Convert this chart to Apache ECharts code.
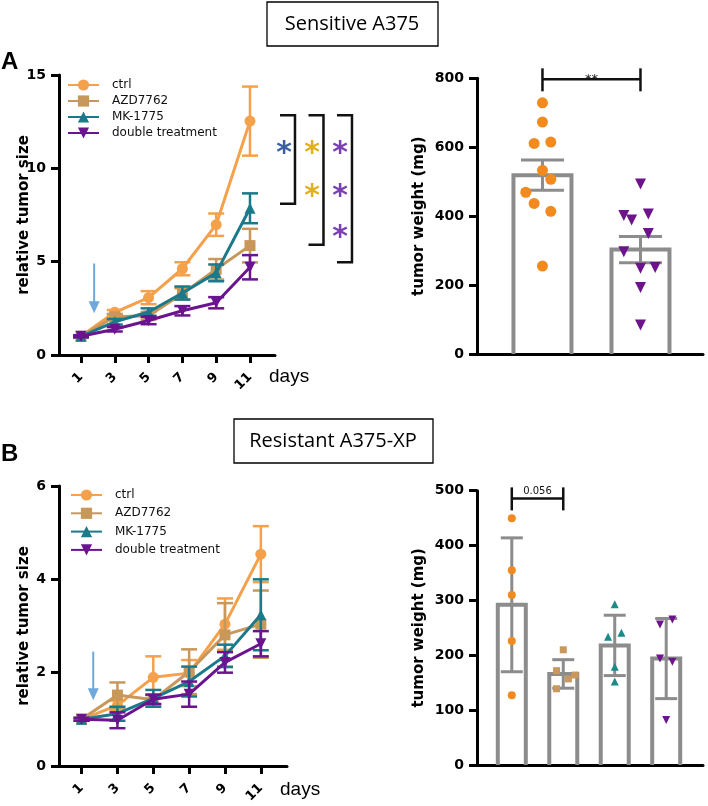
<!DOCTYPE html>
<html><head><meta charset="utf-8">
<script src="https://cdn.jsdelivr.net/npm/echarts@6/dist/echarts.min.js"></script>
<style>html,body{margin:0;padding:0;background:#fff}#c{width:708px;height:806px}</style>
</head><body><div id="c"></div>
<script>
// ---------- data ----------
const days = [1, 3, 5, 7, 9, 11];
const groupNames = ['ctrl', 'AZD7762', 'MK-1775', 'double treatment'];

// Panel A (Sensitive A375) relative tumor size, mean and error
const ctrlSizeA = [1.0, 2.29, 3.07, 4.62, 6.98, 12.53];
const ctrlErrA  = [0.05, 0.12, 0.35, 0.35, 0.6, 1.85];
const azdSizeA  = [1.0, 2.05, 2.1, 3.28, 4.59, 5.86];
const azdErrA   = [0.05, 0.15, 0.2, 0.3, 0.55, 0.9];
const mkSizeA   = [1.0, 1.78, 2.3, 3.32, 4.4, 7.86];
const mkErrA    = [0.05, 0.15, 0.2, 0.35, 0.45, 0.8];
const dblSizeA  = [1.0, 1.38, 1.85, 2.37, 2.8, 4.7];
const dblErrA   = [0.05, 0.12, 0.2, 0.25, 0.3, 0.65];

// Panel B (Resistant A375-XP)
const ctrlSizeB = [1.0, 1.3, 1.9, 1.99, 3.04, 4.54];
const ctrlErrB  = [0.03, 0.1, 0.45, 0.28, 0.55, 0.6];
const azdSizeB  = [1.0, 1.52, 1.42, 2.02, 2.81, 3.04];
const azdErrB   = [0.03, 0.27, 0.1, 0.48, 0.68, 0.72];
const mkSizeB   = [1.0, 1.12, 1.45, 1.81, 2.36, 3.24];
const mkErrB    = [0.03, 0.15, 0.18, 0.32, 0.24, 0.76];
const dblSizeB  = [1.0, 0.98, 1.43, 1.54, 2.22, 2.62];
const dblErrB   = [0.03, 0.17, 0.1, 0.27, 0.22, 0.27];

// Tumor weights A (ctrl vs double)
const weightMeanA = [519, 303];
const weightSemA  = [44, 38];
const weightsCtrlA = [729, 673, 611, 615, 533, 507, 469, 437, 414, 255];
const jitterCtrlA  = [0, 0, -0.085, 0.085, 0, 0.085, -0.17, -0.085, 0.085, 0];
const weightsDblA  = [493, 402, 389, 406, 350, 297, 249, 251, 193, 84];
const jitterDblA   = [0, -0.17, -0.09, 0.08, 0.08, -0.17, 0, 0.15, 0, 0];

// Tumor weights B (4 groups)
const weightMeanB = [292, 166, 218, 194];
const weightSdB   = [122, 26, 55, 73];
const weightsCtrlB = [450, 355, 310, 226, 127];
const jitterCtrlB  = [0, 0, 0, 0, 0];
const weightsAzdB  = [210, 172, 157, 164, 139];
const jitterAzdB   = [0, -0.13, 0.1, 0.23, -0.13];
const weightsMkB   = [293, 234, 241, 179, 152];
const jitterMkB    = [0, -0.13, 0.13, 0, 0];
const weightsDblB  = [256, 265, 194, 188, 82];
const jitterDblB   = [-0.12, 0.12, -0.12, 0.12, 0];

// Annotations
const arrowA = [[1.78, 4.9, 2.23]];
const arrowB = [[1.65, 2.45, 1.41]];
const bracketsA = [[11, 12.85, 8.1], [11, 12.85, 5.9], [11, 12.85, 4.97]];
const starsA = [[0, 11.1, 0], [1, 11.1, 1], [1, 8.8, 1], [2, 11.1, 2], [2, 8.8, 2], [2, 6.6, 2]];
const sigA = [[0, 1, 797, '**']];
const sigB = [[0, 1, 486, '0.056']];

// ---------- styles ----------
const C = { ctrl: '#F5A04A', azd: '#C8975A', mk: '#1B7A8A', dbl: '#6A1490' };
const PT = { ctrl: '#F28A1E', azd: '#C9985E', mk: '#1A8A8A', dbl: '#6D138C' };
const GRAY = '#8C8C8C';
const starColors = ['#3B5FA0', '#E0B020', '#7A3FB0'];
const DOWN = 'path://M0,0L10,0L5,9Z';
const symbols = ['circle', 'rect', 'triangle', DOWN];
const colors = [C.ctrl, C.azd, C.mk, C.dbl];

function errSeries(xi, yi, xs, means, errs, color, cap, lw, z) {
  return {
    type: 'custom', xAxisIndex: xi, yAxisIndex: yi, z: z, silent: true, clip: false,
    data: xs.map((x, j) => [x, means[j], errs[j]]),
    encode: { x: 0, y: 1 },
    renderItem: (p, api) => {
      const x = api.value(0), m = api.value(1), e = api.value(2);
      const t = api.coord([x, m + e]), b = api.coord([x, m - e]);
      const st = { stroke: color, lineWidth: lw };
      return { type: 'group', children: [
        { type: 'line', shape: { x1: t[0], y1: t[1], x2: b[0], y2: b[1] }, style: st },
        { type: 'line', shape: { x1: t[0] - cap / 2, y1: t[1], x2: t[0] + cap / 2, y2: t[1] }, style: st },
        { type: 'line', shape: { x1: b[0] - cap / 2, y1: b[1], x2: b[0] + cap / 2, y2: b[1] }, style: st }
      ]};
    }
  };
}
function lineSeries(xi, yi, name, vals, color, sym, size, z) {
  return {
    type: 'line', name: name, xAxisIndex: xi, yAxisIndex: yi, z: z,
    data: days.map((d, j) => [d, vals[j]]),
    symbol: sym, symbolSize: size, showAllSymbol: true,
    lineStyle: { color: color, width: 3 }, itemStyle: { color: color },
    emphasis: { disabled: true }
  };
}
function barSeries(xi, yi, means, w) {
  return {
    type: 'custom', xAxisIndex: xi, yAxisIndex: yi, z: 2, silent: true,
    data: means.map((m, i) => [i, m]), encode: { x: 0, y: 1 },
    renderItem: (p, api) => {
      const c = api.coord([api.value(0), api.value(1)]), b = api.coord([api.value(0), 0]);
      return { type: 'polyline', shape: { points: [[c[0] - w / 2, b[1]], [c[0] - w / 2, c[1]], [c[0] + w / 2, c[1]], [c[0] + w / 2, b[1]]] },
        style: { fill: 'none', stroke: GRAY, lineWidth: 4 } };
    }
  };
}
function pointSeries(xi, yi, idx, vals, jit, color, sym, size) {
  return {
    type: 'scatter', xAxisIndex: xi, yAxisIndex: yi, z: 6, silent: true,
    data: vals.map((v, j) => [idx + jit[j], v]),
    symbol: sym, symbolSize: size, itemStyle: { color: color, opacity: 1 }
  };
}
function arrowSeries(xi, yi, data) {
  return {
    type: 'custom', xAxisIndex: xi, yAxisIndex: yi, z: 8, silent: true, clip: false,
    data: data, encode: { x: 0, y: [1, 2] },
    renderItem: (p, api) => {
      const a = api.coord([api.value(0), api.value(1)]), b = api.coord([api.value(0), api.value(2)]);
      const col = '#6FA8DC';
      return { type: 'group', children: [
        { type: 'line', shape: { x1: a[0], y1: a[1], x2: b[0], y2: b[1] - 10 }, style: { stroke: col, lineWidth: 2 } },
        { type: 'polygon', shape: { points: [[b[0] - 5.5, b[1] - 12], [b[0] + 5.5, b[1] - 12], [b[0], b[1]]] }, style: { fill: col } }
      ]};
    }
  };
}
function sigSeries(xi, yi, data, fontSize, textDy) {
  return {
    type: 'custom', xAxisIndex: xi, yAxisIndex: yi, z: 8, silent: true, clip: false,
    data: data, encode: { x: [0, 1], y: 2 },
    renderItem: (p, api) => {
      const a = api.coord([api.value(0), api.value(2)]), b = api.coord([api.value(1), api.value(2)]);
      const st = { stroke: '#111', lineWidth: 2.5 };
      return { type: 'group', children: [
        { type: 'line', shape: { x1: a[0], y1: a[1], x2: b[0], y2: b[1] }, style: st },
        { type: 'line', shape: { x1: a[0], y1: a[1] - 11, x2: a[0], y2: a[1] + 12 }, style: st },
        { type: 'line', shape: { x1: b[0], y1: b[1] - 11, x2: b[0], y2: b[1] + 12 }, style: st },
        { type: 'text', style: { text: api.value(3), x: (a[0] + b[0]) / 2, y: a[1] + textDy, align: 'center', verticalAlign: 'middle',
          fontSize: fontSize, fontFamily: 'DejaVu Sans', fill: '#111' } }
      ]};
    }
  };
}

const axisLine = { show: true, onZero: false, lineStyle: { color: '#000', width: 3 } };
const yLabel = { color: '#000', fontWeight: 'bold', fontSize: 14, fontFamily: 'DejaVu Sans', margin: 13 };
const yTick = { show: true, length: 8, lineStyle: { color: '#000', width: 3 } };
const nameStyle = { color: '#000', fontWeight: 'bold', fontSize: 15, fontFamily: 'DejaVu Sans' };

function dayXAxis(gi, min, max) {
  return {
    gridIndex: gi, type: 'value', min: min, max: max,
    axisLine: axisLine, splitLine: { show: false },
    axisTick: { show: true, customValues: days, length: 8, lineStyle: { color: '#000', width: 3 } },
    axisLabel: { customValues: days, rotate: 45, margin: 20, color: '#000', fontWeight: 'bold', fontSize: 13, fontFamily: 'DejaVu Sans' }
  };
}
function plainXAxis(gi, min, max) {
  return { gridIndex: gi, type: 'value', min: min, max: max, axisLine: axisLine,
    axisTick: { show: false }, axisLabel: { show: false }, splitLine: { show: false } };
}
function yAx(gi, max, interval, name, gap) {
  return { gridIndex: gi, type: 'value', min: 0, max: max, interval: interval,
    name: name, nameLocation: 'middle', nameGap: gap, nameTextStyle: nameStyle, nameMoveOverlap: false,
    axisLine: axisLine, axisTick: yTick, axisLabel: yLabel, splitLine: { show: false } };
}
function legendAt(left, top, gap) {
  return {
    data: groupNames, orient: 'vertical', left: left, top: top, padding: 0, itemWidth: 31, itemHeight: 14, itemGap: gap,
    selectedMode: false, textStyle: { fontSize: 12, fontFamily: 'DejaVu Sans', color: '#111', padding: [0, 0, 0, 8] }
  };
}

const sizesA = [[ctrlSizeA, ctrlErrA], [azdSizeA, azdErrA], [mkSizeA, mkErrA], [dblSizeA, dblErrA]];
const sizesB = [[ctrlSizeB, ctrlErrB], [azdSizeB, azdErrB], [mkSizeB, mkErrB], [dblSizeB, dblErrB]];

const series = [];
sizesA.forEach((s, i) => {
  series.push(errSeries(0, 0, days, s[0], s[1], colors[i], 16, 2.5, 3 + i));
  series.push(lineSeries(0, 0, groupNames[i], s[0], colors[i], symbols[i], 11, 3 + i));
});
sizesB.forEach((s, i) => {
  series.push(errSeries(2, 2, days, s[0], s[1], colors[i], 16, 2.5, 3 + i));
  series.push(lineSeries(2, 2, groupNames[i], s[0], colors[i], symbols[i], 11, 3 + i));
});
series.push(arrowSeries(0, 0, arrowA));
series.push(arrowSeries(2, 2, arrowB));

// brackets and stars for panel A
series.push({
  type: 'custom', xAxisIndex: 0, yAxisIndex: 0, z: 8, silent: true, clip: false,
  data: bracketsA, encode: { x: 0, y: [1, 2] },
  renderItem: (p, api) => {
    const k = p.dataIndex;
    const t = api.coord([api.value(0), api.value(1)]), b = api.coord([api.value(0), api.value(2)]);
    const xr = t[0] + 45 + k * 28.5, xl = xr - 15;
    return { type: 'polyline', shape: { points: [[xl, t[1]], [xr, t[1]], [xr, b[1]], [xl, b[1]]] },
      style: { fill: 'none', stroke: '#111', lineWidth: 2.5 } };
  }
});
series.push({
  type: 'custom', xAxisIndex: 0, yAxisIndex: 0, z: 8, silent: true, clip: false,
  data: starsA, encode: { y: 1 },
  renderItem: (p, api) => {
    const c = api.coord([11, api.value(1)]);
    return { type: 'text', style: { text: '*', x: c[0] + 34 + api.value(0) * 28, y: c[1] + 6, align: 'center', verticalAlign: 'middle',
      fontSize: 30, fontWeight: 'bold', fontFamily: 'DejaVu Sans', fill: starColors[api.value(2)] } };
  }
});

// bar charts
series.push(barSeries(1, 1, weightMeanA, 58));
series.push(errSeries(1, 1, [0, 1], weightMeanA, weightSemA, GRAY, 43, 3, 4));
series.push(pointSeries(1, 1, 0, weightsCtrlA, jitterCtrlA, PT.ctrl, 'circle', 11));
series.push(pointSeries(1, 1, 1, weightsDblA, jitterDblA, PT.dbl, DOWN, 11));
series.push(sigSeries(1, 1, sigA, 13, 0));

series.push(barSeries(3, 3, weightMeanB, 28));
series.push(errSeries(3, 3, [0, 1, 2, 3], weightMeanB, weightSdB, GRAY, 22, 3, 4));
series.push(pointSeries(3, 3, 0, weightsCtrlB, jitterCtrlB, PT.ctrl, 'circle', 8));
series.push(pointSeries(3, 3, 1, weightsAzdB, jitterAzdB, PT.azd, 'rect', 7));
series.push(pointSeries(3, 3, 2, weightsMkB, jitterMkB, PT.mk, 'triangle', 8));
series.push(pointSeries(3, 3, 3, weightsDblB, jitterDblB, PT.dbl, DOWN, 8));
series.push(sigSeries(3, 3, sigB, 10, -7));

const chart = echarts.init(document.getElementById('c'), null, { renderer: 'canvas' });
chart.setOption({
  animation: false,
  backgroundColor: '#fff',
  grid: [
    { left: 59, top: 75, width: 216, height: 280 },
    { left: 477, top: 78.3, width: 226, height: 275.7 },
    { left: 59, top: 486, width: 228, height: 280 },
    { left: 477, top: 490.7, width: 226, height: 274.3 }
  ],
  xAxis: [dayXAxis(0, -0.3, 12.48), plainXAxis(1, -0.668, 1.638), dayXAxis(2, -0.26, 12.46), plainXAxis(3, -0.676, 3.715)],
  yAxis: [yAx(0, 15, 5, 'relative tumor size', 27), yAx(1, 800, 200, 'tumor weight (mg)', 50),
          yAx(2, 6, 2, 'relative tumor size', 27), yAx(3, 500, 100, 'tumor weight (mg)', 50)],
  legend: [legendAt(67, 79, 4), legendAt(70, 489, 6.3)],
  graphic: [
    { type: 'rect', shape: { x: 267, y: 2, width: 171, height: 44 }, style: { fill: '#fff', stroke: '#000', lineWidth: 1.3 } },
    { type: 'text', x: 352, y: 24, style: { text: 'Sensitive A375', fontSize: 20, fontFamily: 'Open Sans', fill: '#000', align: 'center', verticalAlign: 'middle' } },
    { type: 'text', x: 1, y: 62, style: { text: 'A', fontSize: 24, fontWeight: 'bold', fontFamily: 'Liberation Sans', fill: '#000', verticalAlign: 'middle' } },
    { type: 'rect', shape: { x: 234, y: 419, width: 199, height: 44 }, style: { fill: '#fff', stroke: '#000', lineWidth: 1.3 } },
    { type: 'text', x: 333, y: 441, style: { text: 'Resistant A375-XP', fontSize: 20, fontFamily: 'Open Sans', fill: '#000', align: 'center', verticalAlign: 'middle' } },
    { type: 'text', x: 1, y: 454, style: { text: 'B', fontSize: 24, fontWeight: 'bold', fontFamily: 'Liberation Sans', fill: '#000', verticalAlign: 'middle' } },
    { type: 'text', x: 269, y: 377, style: { text: 'days', fontSize: 19, fontFamily: 'Liberation Sans', fill: '#000', verticalAlign: 'middle' } },
    { type: 'text', x: 280, y: 790, style: { text: 'days', fontSize: 19, fontFamily: 'Liberation Sans', fill: '#000', verticalAlign: 'middle' } }
  ],
  series: series
});
</script></body></html>
